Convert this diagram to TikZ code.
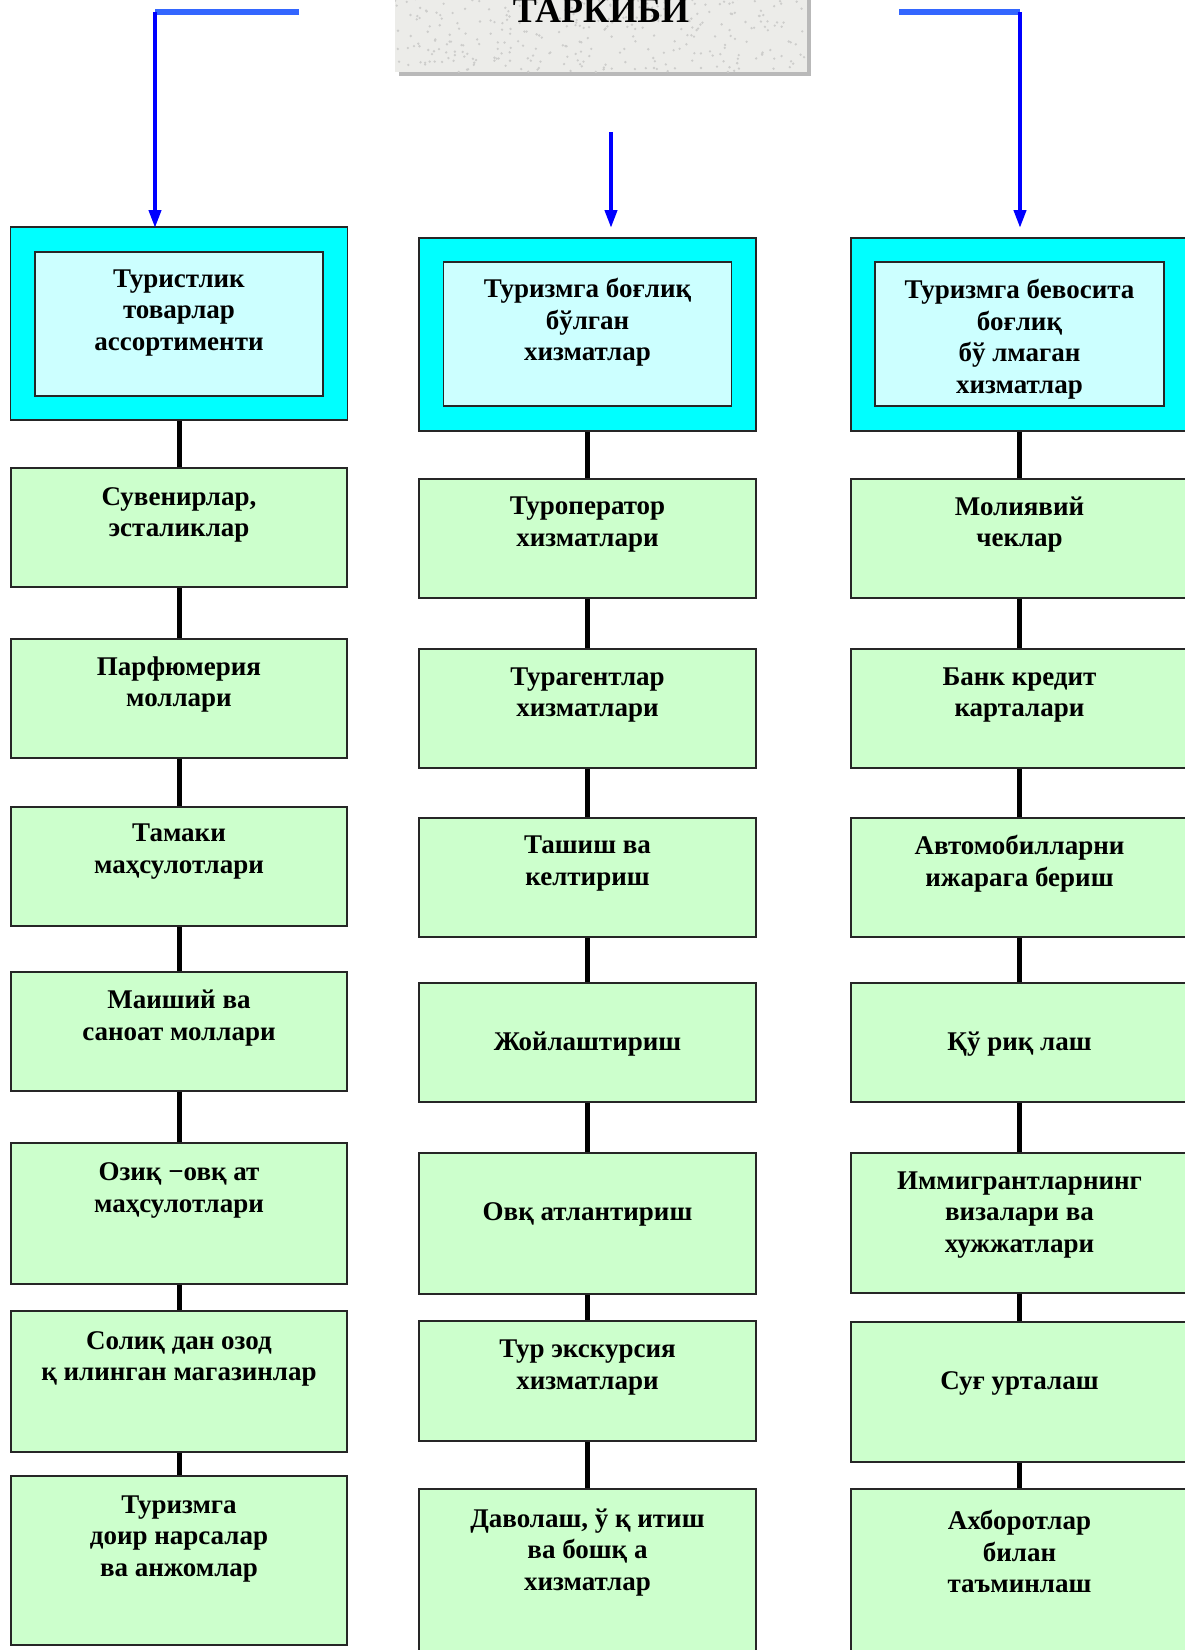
\documentclass[tikz,border=0pt]{standalone}
\usepackage{fontspec}
\setmainfont{Liberation Serif}
\usetikzlibrary{arrows.meta}
\definecolor{cyanb}{RGB}{0,255,255}
\definecolor{lcyan}{RGB}{204,255,255}
\definecolor{lgreen}{RGB}{204,255,204}
\definecolor{bluearr}{RGB}{0,0,255}
\definecolor{bluebar}{RGB}{51,102,255}
\definecolor{paper}{RGB}{236,236,233}
\definecolor{speck}{RGB}{205,205,203}
\begin{document}
\begin{tikzpicture}[x=1pt,y=-1pt,
  gbox/.style={draw=black!85,line width=1.6pt,fill=lgreen,minimum width=336.5pt,inner sep=0pt},
  obox/.style={draw=black!85,line width=1.6pt,fill=cyanb,minimum width=337pt,minimum height=193pt,inner sep=0pt},
  ibox/.style={draw=black!85,line width=1.6pt,fill=lcyan,minimum width=288pt,minimum height=144pt,inner sep=0pt},
  txt/.style={font=\bfseries\fontsize{27}{31.5}\selectfont,align=center,inner sep=0pt,yshift=-2.5pt},
  conn/.style={line width=5pt,black},
  barr/.style={line width=4pt,bluearr,-{Triangle[width=12pt,length=18pt]}},
  bbar/.style={line width=6pt,bluebar}]
\useasboundingbox (0,0) rectangle (1185,1650);

% ---- title box
\fill[gray!55] (399,-10) rectangle (811,76);
\node[fill=paper,minimum width=412pt,minimum height=112pt,inner sep=0pt] (tbox) at (601,16) {};
\begin{scope}
\clip (395,-10) rectangle (807,72);
\pgfmathsetseed{7}
\foreach \i in {1,...,350}{
  \pgfmathsetmacro\rx{395+412*rnd}
  \pgfmathsetmacro\ry{-10+82*rnd}
  \fill[speck] (\rx,\ry) circle (1.3pt);
}
\end{scope}
\node[font=\bfseries\fontsize{36}{40}\selectfont,anchor=base,inner sep=0pt] (title) at (601,22.7) {ТАРКИБИ};

% ---- header boxes
\node[obox] (lh) at (179,323.5) {};
\node[ibox] (lhi) at (179,324) {};
\node[txt] (lht) at (179,310.5) {Туристлик\\товарлар\\ассортименти};

\node[obox] (mh) at (587.5,334.5) {};
\node[ibox] (mhi) at (587.5,334) {};
\node[txt] (mht) at (587.5,320) {Туризмга боғлиқ\\бўлган\\хизматлар};

\node[obox] (rh) at (1019.5,334.5) {};
\node[ibox,minimum width=289pt] (rhi) at (1019.5,334) {};
\node[txt] (rht) at (1019.5,336.5) {Туризмга бевосита\\боғлиқ\\бў лмаган\\хизматлар};

% ---- blue arrows
\coordinate (lbarE) at (299,12);
\coordinate (lbarW) at (155,12);
\coordinate (ltip) at (155,228);
\draw[bbar] (lbarE) -- (lbarW);
\draw[barr] (lbarW) -- (ltip);

\coordinate (mstart) at (611,132);
\coordinate (mtip) at (611,228);
\draw[barr] (mstart) -- (mtip);

\coordinate (rbarW) at (899,12);
\coordinate (rbarE) at (1020,12);
\coordinate (rtip) at (1020,228);
\draw[bbar] (rbarW) -- (rbarE);
\draw[barr] (rbarE) -- (rtip);

% ---- left column
\node[gbox,minimum height=119pt] (l1) at (179,527.5) {};
\node[gbox,minimum height=119pt] (l2) at (179,698.5) {};
\node[gbox,minimum height=119pt] (l3) at (179,866.5) {};
\node[gbox,minimum height=119pt] (l4) at (179,1031.5) {};
\node[gbox,minimum height=141pt] (l5) at (179,1213.5) {};
\node[gbox,minimum height=141pt] (l6) at (179,1381.5) {};
\node[gbox,minimum height=169pt] (l7) at (179,1560.5) {};
\node[txt] (l1t) at (179,512.5) {Сувенирлар,\\эсталиклар};
\node[txt] (l2t) at (179,682) {Парфюмерия\\моллари};
\node[txt] (l3t) at (179,849) {Тамаки\\маҳсулотлари};
\node[txt] (l4t) at (179,1015.5) {Маиший ва\\саноат моллари};
\node[txt] (l5t) at (179,1188) {Озиқ −овқ ат\\маҳсулотлари};
\node[txt] (l6t) at (179,1356.5) {Солиқ дан озод\\қ илинган магазинлар};
\node[txt] (l7t) at (179,1536.5) {Туризмга\\доир нарсалар\\ва анжомлар};

% ---- middle column
\node[gbox,minimum height=119pt] (m1) at (587.5,538.5) {};
\node[gbox,minimum height=119pt] (m2) at (587.5,708.5) {};
\node[gbox,minimum height=119pt] (m3) at (587.5,877.5) {};
\node[gbox,minimum height=119pt] (m4) at (587.5,1042.5) {};
\node[gbox,minimum height=141pt] (m5) at (587.5,1223.5) {};
\node[gbox,minimum height=120pt] (m6) at (587.5,1381) {};
\node[gbox,minimum height=191pt] (m7) at (587.5,1584.5) {};
\node[txt] (m1t) at (587.5,522) {Туроператор\\хизматлари};
\node[txt] (m2t) at (587.5,692.5) {Турагентлар\\хизматлари};
\node[txt] (m3t) at (587.5,861) {Ташиш ва\\келтириш};
\node[txt] (m4t) at (587.5,1042) {Жойлаштириш};
\node[txt] (m5t) at (587.5,1212) {Овқ атлантириш};
\node[txt] (m6t) at (587.5,1365) {Тур экскурсия\\хизматлари};
\node[txt] (m7t) at (587.5,1550) {Даволаш, ў қ итиш\\ва бошқ а\\хизматлар};

% ---- right column
\node[gbox,minimum height=119pt] (r1) at (1019.5,538.5) {};
\node[gbox,minimum height=119pt] (r2) at (1019.5,708.5) {};
\node[gbox,minimum height=119pt] (r3) at (1019.5,877.5) {};
\node[gbox,minimum height=119pt] (r4) at (1019.5,1042.5) {};
\node[gbox,minimum height=140pt] (r5) at (1019.5,1223) {};
\node[gbox,minimum height=140pt] (r6) at (1019.5,1392) {};
\node[gbox,minimum height=191pt] (r7) at (1019.5,1584.5) {};
\node[txt] (r1t) at (1019.5,522) {Молиявий\\чеклар};
\node[txt] (r2t) at (1019.5,692.5) {Банк кредит\\карталари};
\node[txt] (r3t) at (1019.5,861) {Автомобилларни\\ижарага бериш};
\node[txt] (r4t) at (1019.5,1042) {Қў риқ лаш};
\node[txt] (r5t) at (1019.5,1212.5) {Иммигрантларнинг\\визалари ва\\хужжатлари};
\node[txt] (r6t) at (1019.5,1381) {Суғ урталаш};
\node[txt] (r7t) at (1019.5,1549) {Ахборотлар\\билан\\таъминлаш};

% ---- connectors
\foreach \c in {l,m,r}{
  \draw[conn] (\c h.south) -- (\c 1.north);
  \draw[conn] (\c 1.south) -- (\c 2.north);
  \draw[conn] (\c 2.south) -- (\c 3.north);
  \draw[conn] (\c 3.south) -- (\c 4.north);
  \draw[conn] (\c 4.south) -- (\c 5.north);
  \draw[conn] (\c 5.south) -- (\c 6.north);
  \draw[conn] (\c 6.south) -- (\c 7.north);
}
\end{tikzpicture}
\end{document}
